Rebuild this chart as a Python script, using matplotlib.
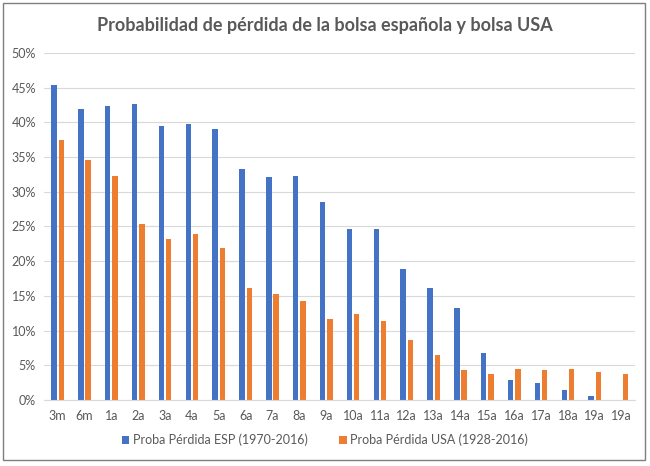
import matplotlib
matplotlib.use("Agg")
from matplotlib import pyplot as plt
from matplotlib.patches import Rectangle
from matplotlib.ticker import PercentFormatter
import numpy as np

plt.rcParams['font.family'] = ['Lato', 'DejaVu Sans']

categories = ["3m", "6m", "1a", "2a", "3a", "4a", "5a", "6a", "7a", "8a", "9a",
              "10a", "11a", "12a", "13a", "14a", "15a", "16a", "17a", "18a", "19a", "19a"]
esp = [45.4, 41.9, 42.3, 42.6, 39.5, 39.7, 39.1, 33.3, 32.1, 32.2, 28.5,
       24.6, 24.6, 18.8, 16.1, 13.2, 6.7, 2.9, 2.4, 1.4, 0.6, 0.0]
usa = [37.4, 34.5, 32.3, 25.3, 23.2, 23.9, 21.9, 16.2, 15.2, 14.2, 11.7,
       12.4, 11.4, 8.7, 6.5, 4.3, 3.7, 4.4, 4.3, 4.5, 4.0, 3.7]
labels = ["Proba Pérdida ESP (1970-2016)", "Proba Pérdida USA (1928-2016)"]

blue = "#4472C4"
orange = "#ED7D31"
grey = "#595959"

fig = plt.figure(figsize=(6.5, 4.66), dpi=100)
ax = fig.add_axes([0.068, 0.1416, 0.909, 0.745])

x = np.arange(len(categories))
w = 0.2
ax.bar(x - 0.135, np.array(esp) / 100, w, color=blue, label=labels[0])
ax.bar(x + 0.135, np.array(usa) / 100, w, color=orange, label=labels[1])

ax.set_xlim(-0.5, len(categories) - 0.5)
ax.set_ylim(0, 0.5)
ax.set_yticks(np.arange(0, 0.501, 0.05))
ax.yaxis.set_major_formatter(PercentFormatter(1.0, decimals=0))
ax.set_xticks(x)
ax.set_xticklabels(categories)
ax.tick_params(length=0, labelsize=9, colors=grey)
ax.tick_params(axis='x', pad=7)
ax.tick_params(axis='y', pad=6)

ax.grid(axis='y', color='#d9d9d9', linewidth=0.8)
ax.set_axisbelow(True)
for s in ['top', 'right', 'left']:
    ax.spines[s].set_visible(False)
ax.spines['bottom'].set_color('#d9d9d9')

fig.text(0.5, 0.945, "Probabilidad de pérdida de la bolsa española y bolsa USA",
         ha='center', va='center', fontsize=13, fontweight='bold', color=grey)

fig.legend(loc='center', bbox_to_anchor=(0.5, 0.056), ncol=2, frameon=False,
           fontsize=9, labelcolor=grey, handlelength=0.6, handleheight=0.6,
           handletextpad=0.3, columnspacing=2.5)

# chart border
fig.patches.append(Rectangle((3 / 650, 1 - 460 / 466), 642 / 650, 457 / 466,
                             transform=fig.transFigure, fill=False,
                             edgecolor='#7f7f7f', linewidth=1))

fig.savefig("out.png", dpi=100)
